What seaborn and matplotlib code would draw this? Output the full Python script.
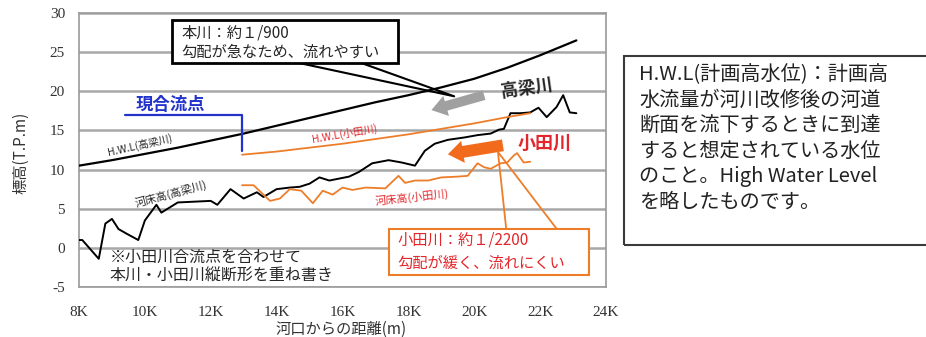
import matplotlib
matplotlib.use("Agg")
import matplotlib.pyplot as plt
import matplotlib.patches as mpatches
from matplotlib.ticker import MultipleLocator
import seaborn as sns

# --- data (distance from river mouth in km, elevation T.P. m) ---
hwl_takahashi_km = [8, 9, 10, 11, 12, 13, 14, 15, 16, 17, 18, 19, 20, 21, 22, 23.1]
hwl_takahashi_m = [10.5, 11.2, 12.0, 12.8, 13.7, 14.6, 15.6, 16.6, 17.6, 18.6, 19.5,
                   20.5, 21.6, 23.0, 24.6, 26.5]

bed_takahashi_km = [8.0, 8.1, 8.6, 8.8, 9.0, 9.2, 9.45, 9.8, 10.0, 10.35, 10.5, 11.0,
                    12.0, 12.2, 12.6, 13.0, 13.4, 13.6, 14.0, 14.4, 14.7, 15.0, 15.3,
                    15.6, 16.2, 16.5, 16.9, 17.4, 17.8, 18.2, 18.5, 18.8, 19.2, 19.7,
                    20.1, 20.5, 20.75, 20.9, 21.1, 21.4, 21.7, 21.95, 22.2, 22.5, 22.7,
                    22.9, 23.1]
bed_takahashi_m = [1.0, 1.0, -1.4, 3.1, 3.7, 2.4, 1.8, 1.0, 3.5, 5.5, 4.5, 5.8,
                   6.0, 5.5, 7.5, 6.3, 7.1, 6.5, 7.5, 7.7, 7.8, 8.2, 9.0,
                   8.6, 9.1, 9.7, 10.8, 11.2, 10.9, 10.5, 12.4, 13.3, 13.8, 14.1,
                   14.4, 14.6, 15.1, 15.2, 17.2, 17.2, 17.3, 17.9, 16.7, 18.0, 19.5,
                   17.3, 17.2]

hwl_oda_km = [12.95, 14, 15, 16, 17, 18, 19, 20, 21, 21.7]
hwl_oda_m = [11.9, 12.3, 12.8, 13.3, 13.9, 14.5, 15.2, 15.9, 16.7, 17.2]

bed_oda_km = [12.95, 13.3, 13.8, 14.1, 14.4, 14.75, 15.1, 15.4, 15.7, 16.0, 16.3,
              16.7, 17.3, 17.7, 17.9, 18.2, 18.6, 19.0, 19.5, 19.8, 20.1, 20.3,
              20.5, 20.8, 21.0, 21.2, 21.3, 21.5, 21.7]
bed_oda_m = [8.0, 8.0, 6.0, 6.3, 7.5, 7.3, 5.7, 7.3, 6.8, 7.7, 7.4,
             7.7, 7.6, 9.2, 8.3, 8.6, 8.6, 9.0, 9.1, 9.2, 10.8, 10.3,
             10.1, 10.8, 10.9, 11.8, 12.1, 10.9, 11.0]

confluence_km = 12.95
x_ticks = [8, 10, 12, 14, 16, 18, 20, 22, 24]
x_tick_labels = [f"{k}K" for k in x_ticks]

note_lines = [
    "H.W.L(計画高水位)：計画高",
    "水流量が河川改修後の河道",
    "断面を流下するときに到達",
    "すると想定されている水位",
    "のこと。High Water Level",
    "を略したものです。",
]

ORANGE = "#ee7d2a"
RED = "#e3262b"
BLUE = "#2233cc"

sns.set_style("white")
plt.rcParams["font.family"] = ["Noto Sans CJK JP", "DejaVu Sans"]
plt.rcParams["axes.unicode_minus"] = False

fig = plt.figure(figsize=(9.26, 3.37), dpi=100)
ax = fig.add_axes([79 / 926, 50 / 337, 527 / 926, 274 / 337])

sns.lineplot(x=hwl_takahashi_km, y=hwl_takahashi_m, color="black", lw=1.6,
             sort=False, estimator=None, ax=ax, zorder=3)
sns.lineplot(x=bed_takahashi_km, y=bed_takahashi_m, color="black", lw=1.4,
             sort=False, estimator=None, ax=ax, zorder=3)
sns.lineplot(x=hwl_oda_km, y=hwl_oda_m, color=ORANGE, lw=1.3,
             sort=False, estimator=None, ax=ax, zorder=3)
sns.lineplot(x=bed_oda_km, y=bed_oda_m, color=ORANGE, lw=1.3,
             sort=False, estimator=None, ax=ax, zorder=3)

ax.set_xlim(8, 24)
ax.set_ylim(-5, 30)
ax.set_xticks(x_ticks)
ax.set_xticklabels(x_tick_labels)
ax.xaxis.set_minor_locator(MultipleLocator(1))
ax.yaxis.set_major_locator(MultipleLocator(5))
ax.yaxis.set_minor_locator(MultipleLocator(1))
ax.tick_params(which="both", direction="in", color="#555555", width=1)
ax.tick_params(which="major", length=5)
ax.tick_params(which="minor", length=3)
ax.tick_params(axis="x", pad=14, labelsize=11, labelcolor="#333333")
ax.tick_params(axis="y", pad=10, labelsize=11, labelcolor="#333333")
for lab in ax.get_xticklabels() + ax.get_yticklabels():
    lab.set_family("Liberation Serif")

ax.yaxis.grid(True, color="#a8a8a8", lw=1.8, zorder=0)
ax.xaxis.grid(False)
ax.set_axisbelow(True)
for s in ax.spines.values():
    s.set_color("#9a9a9a")
    s.set_linewidth(1.2)

ax.set_xlabel("河口からの距離(m)", fontsize=11, color="#333333")
ax.xaxis.set_label_coords(0.497, -0.125)
ax.set_ylabel("標高(T.P.m)", fontsize=11, color="#333333")
ax.yaxis.set_label_coords(-0.095, 0.49)

# series labels
ax.text(9.85, 13.1, "H.W.L(高梁川)", fontsize=7.5, rotation=13, ha="center", va="center")
ax.text(10.8, 6.9, "河床高(高梁川)", fontsize=8, rotation=15, ha="center", va="center")
ax.text(16.05, 14.6, "H.W.L(小田川)", fontsize=7.5, rotation=10, ha="center", va="center", color=RED)
ax.text(18.1, 6.4, "河床高(小田川)", fontsize=8, rotation=6, ha="center", va="center", color=RED)

# confluence marker
ax.plot([9.4, confluence_km, confluence_km], [17.0, 17.0, 12.4], color=BLUE, lw=1.6, zorder=4)
ax.text(10.79, 18.3, "現合流点", fontsize=12.5, fontweight="bold", color=BLUE,
        ha="center", va="center")

# river names with arrows
ax.annotate("", xy=(18.7, 17.6), xytext=(20.3, 19.5),
            arrowprops=dict(arrowstyle="simple,head_length=1.1,head_width=1.5,tail_width=0.7",
                            fc="#a0a0a0", ec="none", mutation_scale=10,
                            shrinkA=0, shrinkB=0), zorder=4)
ax.text(21.6, 20.4, "高梁川", fontsize=12.5, fontweight="bold", rotation=8,
        ha="center", va="center")
ax.annotate("", xy=(19.2, 11.95), xytext=(20.87, 13.1),
            arrowprops=dict(arrowstyle="simple,head_length=1.1,head_width=1.6,tail_width=0.85",
                            fc="#f26a1b", ec="none", mutation_scale=10,
                            shrinkA=0, shrinkB=0), zorder=4)
ax.text(22.15, 13.3, "小田川", fontsize=13, fontweight="bold", color=RED,
        ha="center", va="center")

# callout boxes
ax.plot([14.7, 19.39, 16.58], [23.6, 19.36, 23.6], color="black", lw=1.5, zorder=5)
ax.add_patch(mpatches.Rectangle((10.82, 23.6), 6.85, 5.5, fc="white", ec="black",
                                lw=2, zorder=6))
ax.text(11.12, 27.4, "本川：約１/900", fontsize=11, ha="left", va="center", zorder=7)
ax.text(11.12, 25.0, "勾配が急なため、流れやすい", fontsize=11, ha="left", va="center", zorder=7)

ax.plot([20.97, 20.72, 22.5], [2.44, 12.25, 2.44], color=ORANGE, lw=1.3, zorder=5)
ax.add_patch(mpatches.Rectangle((17.42, -3.46), 6.06, 5.9, fc="white", ec=ORANGE,
                                lw=1.5, zorder=6))
ax.text(17.67, 1.0, "小田川：約１/2200", fontsize=11, color=RED, ha="left", va="center", zorder=7)
ax.text(17.67, -1.93, "勾配が緩く、流れにくい", fontsize=11, color=RED, ha="left", va="center", zorder=7)

ax.text(8.94, -1.16, "※小田川合流点を合わせて", fontsize=11.5, ha="left", va="center")
ax.text(8.94, -3.46, "本川・小田川縦断形を重ね書き", fontsize=11.5, ha="left", va="center")

# explanation box on the right
fig.add_artist(mpatches.Rectangle((624 / 926, 1 - 245 / 337), 0.4, 189 / 337,
                                  transform=fig.transFigure, fill=False,
                                  ec="#3a3a3a", lw=1.5))
for i, line in enumerate(note_lines):
    fig.text(639 / 926, 1 - (75 + i * 25.4) / 337, line, fontsize=14.5,
             ha="left", va="center", color="#222222")

fig.savefig("out.png", dpi=100)
